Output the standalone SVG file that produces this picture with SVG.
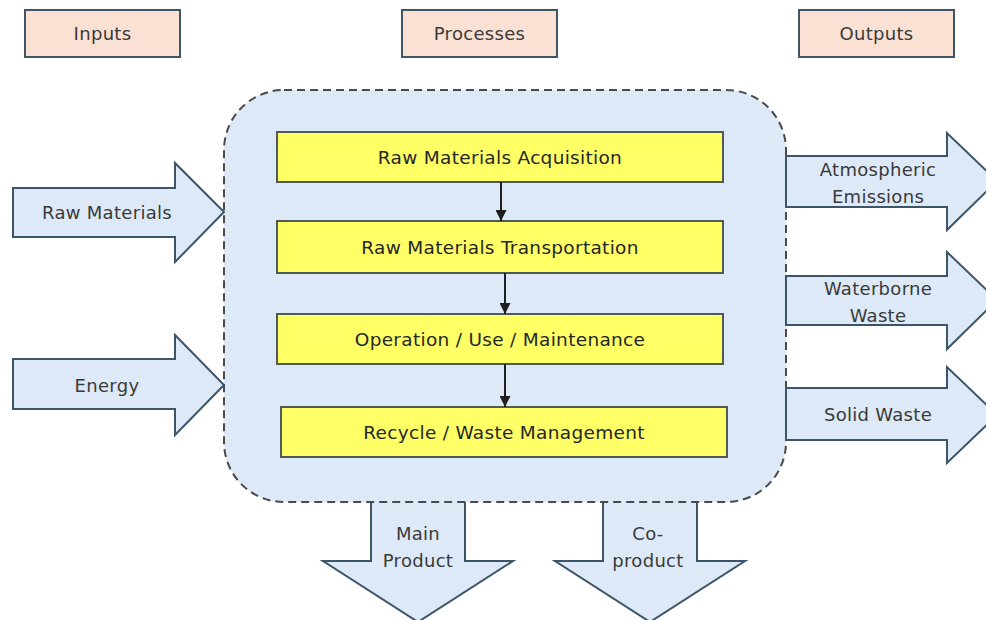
<svg xmlns="http://www.w3.org/2000/svg" width="986" height="620" viewBox="0 0 986 620">
  <defs>
    <marker id="arrowhead" viewBox="0 0 10 10" refX="10" refY="5" markerWidth="6" markerHeight="5.5" markerUnits="strokeWidth" orient="auto">
      <path d="M0,0 L10,5 L0,10 Z" fill="#1f1f1f"/>
    </marker>
    <style>
      .label { font-family: "DejaVu Sans", "Liberation Sans", sans-serif; font-size: 18px; letter-spacing: 0.3px; fill: #3a3a3a; text-anchor: middle; dominant-baseline: central; }
      .stage-text { font-family: "DejaVu Sans", "Liberation Sans", sans-serif; font-size: 18.5px; letter-spacing: 0.3px; fill: #262626; text-anchor: middle; dominant-baseline: central; }
      .header { fill: #fbe1d3; stroke: #3f5566; stroke-width: 2; }
      .flow { fill: #dde9f6; stroke: #3d5568; stroke-width: 2; stroke-linejoin: miter; }
      .flow-fill { fill: #dde9f6; stroke: none; }
      .flow-edge { fill: none; stroke: #3d5568; stroke-width: 2; }
      .stage { fill: #ffff66; stroke: #4f5a55; stroke-width: 2; }
      .boundary { fill: #dde9f6; stroke: #4a4a4a; stroke-width: 2; stroke-dasharray: 8 5; }
      .link { stroke: #1f1f1f; stroke-width: 2; fill: none; marker-end: url(#arrowhead); }
    </style>
  </defs>

  <rect width="986" height="620" fill="#ffffff"/>

  <!-- Column headers -->
  <g id="header-inputs">
    <rect class="header" x="25" y="10" width="155" height="47"/>
    <text class="label" x="102.5" y="33.5">Inputs</text>
  </g>
  <g id="header-processes">
    <rect class="header" x="402" y="10" width="155" height="47"/>
    <text class="label" x="479.5" y="33.5">Processes</text>
  </g>
  <g id="header-outputs">
    <rect class="header" x="799" y="10" width="155" height="47"/>
    <text class="label" x="876.5" y="33.5">Outputs</text>
  </g>

  <!-- Downward product outputs (top edge hidden under the boundary) -->
  <g id="output-main-product">
    <polygon class="flow-fill" points="371,502 465,502 465,561 513,561 418,622 323,561 371,561"/>
    <polyline class="flow-edge" points="371,502 371,561 323,561 418,622 513,561 465,561 465,502"/>
    <text class="label" x="418" y="533">Main</text>
    <text class="label" x="418" y="560">Product</text>
  </g>
  <g id="output-co-product">
    <polygon class="flow-fill" points="603,502 697,502 697,561 745,561 650,622 555,561 603,561"/>
    <polyline class="flow-edge" points="603,502 603,561 555,561 650,622 745,561 697,561 697,502"/>
    <text class="label" x="648" y="533">Co-</text>
    <text class="label" x="648" y="560">product</text>
  </g>

  <!-- Process boundary -->
  <g id="process-boundary">
    <rect class="boundary" x="224" y="90" width="562" height="412" rx="60" ry="60"/>
  </g>

  <!-- Inputs -->
  <g id="input-raw-materials">
    <polygon class="flow" points="13,188 175,188 175,163 224,212 175,262 175,237 13,237"/>
    <text class="label" x="107" y="212">Raw Materials</text>
  </g>
  <g id="input-energy">
    <polygon class="flow" points="13,359 175,359 175,335 224,385 175,435 175,409 13,409"/>
    <text class="label" x="107" y="385">Energy</text>
  </g>

  <!-- Outputs to environment -->
  <g id="output-atmospheric">
    <polygon class="flow" points="786,156 947,156 947,133 997,181 947,230 947,207 786,207"/>
    <text class="label" x="878" y="169">Atmospheric</text>
    <text class="label" x="878" y="196">Emissions</text>
  </g>
  <g id="output-waterborne">
    <polygon class="flow" points="786,276 947,276 947,252 997,300 947,349 947,325 786,325"/>
    <text class="label" x="878" y="288">Waterborne</text>
    <text class="label" x="878" y="315">Waste</text>
  </g>
  <g id="output-solid">
    <polygon class="flow" points="786,388 947,388 947,367 997,415 947,463 947,440 786,440"/>
    <text class="label" x="878" y="414">Solid Waste</text>
  </g>

  <!-- Life-cycle stages -->
  <g id="stage-acquisition">
    <rect class="stage" x="277" y="132" width="446" height="50"/>
    <text class="stage-text" x="500" y="157">Raw Materials Acquisition</text>
  </g>
  <g id="stage-transportation">
    <rect class="stage" x="277" y="221" width="446" height="52"/>
    <text class="stage-text" x="500" y="247">Raw Materials Transportation</text>
  </g>
  <g id="stage-operation">
    <rect class="stage" x="277" y="314" width="446" height="50"/>
    <text class="stage-text" x="500" y="339">Operation / Use / Maintenance</text>
  </g>
  <g id="stage-recycle">
    <rect class="stage" x="281" y="407" width="446" height="50"/>
    <text class="stage-text" x="504" y="432">Recycle / Waste Management</text>
  </g>

  <!-- Stage-to-stage connectors -->
  <g id="connectors">
    <line class="link" x1="501" y1="182" x2="501" y2="221"/>
    <line class="link" x1="505" y1="273" x2="505" y2="314"/>
    <line class="link" x1="505" y1="364" x2="505" y2="407"/>
  </g>
</svg>
